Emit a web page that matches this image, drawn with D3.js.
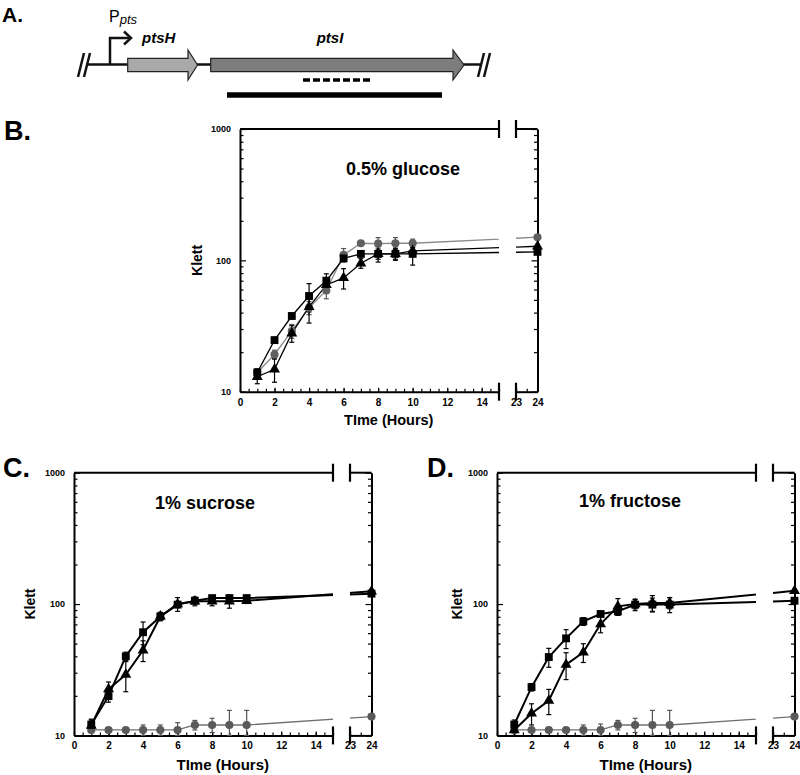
<!DOCTYPE html>
<html><head><meta charset="utf-8">
<script src="https://cdn.jsdelivr.net/npm/d3@7"></script>
<style>
body{margin:0;background:#fff}
svg{display:block}
text{font-family:"Liberation Sans",Arial,sans-serif;font-weight:bold;fill:#000}
</style>
</head><body><svg id="fig" width="800" height="775"></svg>
<script>
// ---------------- data ----------------
const hours = [1,2,3,4,5,6,7,8,9,10,24];
const xMajorTicks = [0,2,4,6,8,10,12,14];
const xBreakTicks = [23,24];
const yMajorTicks = [10,100,1000];

// B. 0.5% glucose
const glcSquare      = [14,24.7,37.7,53.5,70,103.5,112,112,112,112,116];
const glcSquareErr   = [1,1.2,1.5,13,9,5,5,15,12,20,3];
const glcTriangle    = [13,14.8,27.8,44.3,65,73.5,95,112,112,118,128];
const glcTriangleErr = [1.5,3,4,11,6,13,8,10,10,8,3];
const glcCircle      = [14,19.2,29,43.6,59,110,135,134,135,135,150];
const glcCircleErr   = [1,1.5,3.5,5,8,13,5,15,14,10,3];

// C. 1% sucrose
const sucSquare      = [12.1,19.9,40,61,80.5,99,106,111,111,111,120];
const sucSquareErr   = [1.2,2,3,12,5,5,5,4,5,2,3];
const sucTriangle    = [11.9,22.5,29,44.5,80.5,100,105,105,105,106,125];
const sucTriangleErr = [1.2,3,7.5,8,6,12,8,8,12,5,3];
const sucCircle      = [11,11,11,11,11,11,12,12,12,12,13.9];
const sucCircleErr   = [0.5,0.4,0.4,1,1,1.5,1,1.5,3.5,3.5,0.5];

// D. 1% fructose
const fruSquare      = [12.1,23.3,39.5,54.8,73.8,84,88,99,99,99,106];
const fruSquareErr   = [1,1.5,6.5,9,5,3,6,10,12,13,3];
const fruTriangle    = [11,14.7,18.4,34.6,42.9,70.4,96,100,102,102,126];
const fruTriangleErr = [1,2.7,4,8,7,10,14,8,14,10,3];
const fruCircle      = [11,11,11,11,11,11,12,12,12,12,13.9];
const fruCircleErr   = [0.5,0.4,0.4,0.4,1,1.2,1,1.5,3.5,3.5,0.5];

const panelTitles = ["0.5% glucose","1% sucrose","1% fructose"];
const panelLetters = ["B.","C.","D."];

// ---------------- drawing ----------------
const svg = d3.select("#fig");

// ===== Panel A: gene diagram =====
(function geneDiagram(){
  const g = svg.append("g");
  g.append("text").attr("x",2).attr("y",22).style("font-size","21px")
    .style("font-family","'Liberation Sans Narrow','Liberation Sans',Arial,sans-serif").text("A.");
  const ink = "#111";
  g.append("line").attr("x1",86).attr("x2",482).attr("y1",64.5).attr("y2",64.5)
    .attr("stroke",ink).attr("stroke-width",2.5);
  [[78,84],[84,90],[478,484],[484,490]].forEach(([a,b])=>{
    g.append("line").attr("x1",a).attr("y1",77).attr("x2",b).attr("y2",53)
      .attr("stroke",ink).attr("stroke-width",2.5);
  });
  const gene = (x0,x1,tip,fill)=>{
    const p = d3.path();
    p.moveTo(x0,58.3); p.lineTo(x1,58.3); p.lineTo(x1,50); p.lineTo(tip,65);
    p.lineTo(x1,80); p.lineTo(x1,71.7); p.lineTo(x0,71.7); p.closePath();
    g.append("path").attr("d",p.toString()).attr("fill",fill).attr("stroke","#222").attr("stroke-width",1.2);
  };
  gene(127.7,188,197.5,"#a9a9a9");
  gene(210.7,453,464,"#7d7d7d");
  g.append("path").attr("d","M110,64.5 V38 H130").attr("fill","none").attr("stroke",ink).attr("stroke-width",2.5);
  g.append("path").attr("d","M124,31.5 L131,38 L124,44.5").attr("fill","none").attr("stroke",ink).attr("stroke-width",2.5);
  const pt = g.append("text").attr("x",109).attr("y",22).style("font-weight","normal").style("font-size","16px");
  pt.append("tspan").text("P");
  pt.append("tspan").attr("dy",2).style("font-style","italic").style("font-size","13px").text("pts");
  g.append("text").attr("x",142).attr("y",43).style("font-size","15px").style("font-style","italic").text("ptsH");
  g.append("text").attr("x",330).attr("y",43).attr("text-anchor","middle").style("font-size","15px").style("font-style","italic").text("ptsI");
  g.append("line").attr("x1",303).attr("x2",372).attr("y1",80).attr("y2",80)
    .attr("stroke","#000").attr("stroke-width",3.5).attr("stroke-dasharray","7,3");
  g.append("line").attr("x1",227).attr("x2",442).attr("y1",95).attr("y2",95)
    .attr("stroke","#000").attr("stroke-width",5.5);
})();

// ===== growth panels =====
const W1 = 259, GAP = 17, W2 = 21.5, H = 262.7;

function growthPanel(cfg){
  const {L,T,title,titleX,titleY,letter,letterX,letterY,ylabX,xlabY,xlabSize,lw,circleLine,circleFill,series,idx} = cfg;
  const R = L + W1 + GAP + W2, B = T + H;
  const g = svg.append("g");
  const y = d3.scaleLog().domain([10,1000]).range([B,T]);
  const x1 = d3.scaleLinear().domain([0,15]).range([L,L+W1]);
  const x2 = d3.scaleLinear().domain([23,24]).range([L+W1+GAP,R]);
  const xp = d3.scaleLinear().domain([0,15,23,24]).range([L,L+W1,L+W1+GAP,R]);

  g.append("text").attr("x",letterX).attr("y",letterY).style("font-size","27px").text(letter);
  g.append("text").attr("x",titleX).attr("y",titleY).attr("text-anchor","middle").style("font-size","18px").text(title);
  g.append("text").attr("transform",`translate(${ylabX},${(T+B)/2}) rotate(-90)`).attr("text-anchor","middle")
    .style("font-size","14px").text("Klett");
  g.append("text").attr("x",(L+R)/2).attr("y",xlabY).attr("text-anchor","middle").style("font-size",xlabSize+"px").text("TIme (Hours)");

  const minorY = [];
  [10,100].forEach(d=>{for(let k=2;k<=9;k++) minorY.push(d*k);});

  const styleAxis = (sel,fs)=>{
    sel.selectAll("path.domain").attr("stroke","#000").attr("stroke-width",2);
    sel.selectAll(".tick line").attr("stroke","#000").attr("stroke-width",1.2);
    sel.selectAll(".tick text").style("font-size",fs+"px").style("font-family","'Liberation Sans',Arial,sans-serif").style("font-weight","bold");
  };
  const fmt = d3.format("d");

  const ya = g.append("g").attr("transform",`translate(${L},0)`)
    .call(d3.axisLeft(y).tickValues(yMajorTicks).tickFormat(fmt).tickSizeInner(-6).tickSizeOuter(0).tickPadding(9));
  styleAxis(ya,9);
  const yam = g.append("g").attr("transform",`translate(${L},0)`)
    .call(d3.axisLeft(y).tickValues(minorY).tickFormat("").tickSizeInner(-3.5).tickSizeOuter(0));
  yam.select("path.domain").remove(); styleAxis(yam,9);
  const yr = g.append("g").attr("transform",`translate(${R},0)`)
    .call(d3.axisRight(y).tickValues(yMajorTicks).tickFormat("").tickSizeInner(-6).tickSizeOuter(0));
  styleAxis(yr,9);
  const yrm = g.append("g").attr("transform",`translate(${R},0)`)
    .call(d3.axisRight(y).tickValues(minorY).tickFormat("").tickSizeInner(-3.5).tickSizeOuter(0));
  yrm.select("path.domain").remove(); styleAxis(yrm,9);

  const halfA = d3.range(0,15.01,0.5), halfB = [23,23.5,24];
  const xa = g.append("g").attr("transform",`translate(0,${B})`)
    .call(d3.axisBottom(x1).tickValues(xMajorTicks).tickFormat(fmt).tickSizeInner(-4).tickSizeOuter(0).tickPadding(7));
  styleAxis(xa,10);
  const xam = g.append("g").attr("transform",`translate(0,${B})`)
    .call(d3.axisBottom(x1).tickValues(halfA).tickFormat("").tickSizeInner(-3).tickSizeOuter(0));
  xam.select("path.domain").remove(); styleAxis(xam,10);
  const xb = g.append("g").attr("transform",`translate(0,${B})`)
    .call(d3.axisBottom(x2).tickValues(xBreakTicks).tickFormat(fmt).tickSizeInner(-4).tickSizeOuter(0).tickPadding(7));
  styleAxis(xb,10);
  const xbm = g.append("g").attr("transform",`translate(0,${B})`)
    .call(d3.axisBottom(x2).tickValues(halfB).tickFormat("").tickSizeInner(-3).tickSizeOuter(0));
  xbm.select("path.domain").remove(); styleAxis(xbm,10);

  g.append("line").attr("x1",L).attr("x2",L+W1).attr("y1",T).attr("y2",T).attr("stroke","#000").attr("stroke-width",2);
  g.append("line").attr("x1",L+W1+GAP).attr("x2",R).attr("y1",T).attr("y2",T).attr("stroke","#000").attr("stroke-width",2);
  [L+W1, L+W1+GAP].forEach(bx=>{
    [T,B].forEach(by=>{
      g.append("line").attr("x1",bx).attr("x2",bx).attr("y1",by-9).attr("y2",by+9).attr("stroke","#000").attr("stroke-width",2.2);
    });
  });

  const cid = "clip"+idx;
  const cp = svg.append("clipPath").attr("id",cid);
  cp.append("rect").attr("x",L-20).attr("y",T-20).attr("width",W1+20).attr("height",H+40);
  cp.append("rect").attr("x",L+W1+GAP).attr("y",T-20).attr("width",W2+30).attr("height",H+40);

  const line = d3.line().x(d=>xp(d.h)).y(d=>y(d.v));
  const shapes = {square:d3.symbolSquare, triangle:d3.symbolTriangle, circle:d3.symbolCircle};
  const sizes = {square:62, triangle:52, circle:52};

  series.forEach(s=>{
    const pts = hours.map((h,i)=>({h, v:s.vals[i], e:s.errs[i]}));
    const col = s.shape==="circle" ? circleLine : "#000";
    g.append("path").datum(pts).attr("d",line).attr("fill","none").attr("stroke",col)
      .attr("stroke-width", s.shape==="circle" ? 1.3 : lw).attr("clip-path",`url(#${cid})`);
  });
  series.forEach(s=>{
    const pts = hours.map((h,i)=>({h, v:s.vals[i], e:s.errs[i]}));
    const col = s.shape==="circle" ? "#555" : "#000";
    const eb = g.append("g").attr("stroke",col).attr("stroke-width",1.2);
    pts.forEach(p=>{
      const cx = xp(p.h), yt = y(p.v+p.e), yb = y(Math.max(p.v-p.e,10));
      eb.append("line").attr("x1",cx).attr("x2",cx).attr("y1",yt).attr("y2",yb);
      eb.append("line").attr("x1",cx-2.5).attr("x2",cx+2.5).attr("y1",yt).attr("y2",yt);
      eb.append("line").attr("x1",cx-2.5).attr("x2",cx+2.5).attr("y1",yb).attr("y2",yb);
    });
  });
  series.forEach(s=>{
    const pts = hours.map((h,i)=>({h, v:s.vals[i]}));
    const fill = s.shape==="circle" ? circleFill : "#000";
    g.append("g").selectAll("path").data(pts).join("path")
      .attr("transform",d=>`translate(${xp(d.h)},${y(d.v)})`)
      .attr("d",d3.symbol().type(shapes[s.shape]).size(sizes[s.shape]))
      .attr("fill",fill);
  });
}

growthPanel({idx:0, L:240, T:129, title:panelTitles[0], titleX:403, titleY:175, letter:panelLetters[0], letterX:4, letterY:140,
  ylabX:202, xlabY:425, xlabSize:14.5, lw:1.3, circleLine:"#8a8a8a", circleFill:"#606060",
  series:[{shape:"circle",vals:glcCircle,errs:glcCircleErr},{shape:"triangle",vals:glcTriangle,errs:glcTriangleErr},{shape:"square",vals:glcSquare,errs:glcSquareErr}]});
growthPanel({idx:1, L:74, T:472.7, title:panelTitles[1], titleX:205, titleY:509, letter:panelLetters[1], letterX:3, letterY:477,
  ylabX:35, xlabY:770, xlabSize:15, lw:2, circleLine:"#707070", circleFill:"#5a5a5a",
  series:[{shape:"circle",vals:sucCircle,errs:sucCircleErr},{shape:"triangle",vals:sucTriangle,errs:sucTriangleErr},{shape:"square",vals:sucSquare,errs:sucSquareErr}]});
growthPanel({idx:2, L:497, T:472.7, title:panelTitles[2], titleX:630, titleY:507, letter:panelLetters[2], letterX:427, letterY:477,
  ylabX:462, xlabY:770, xlabSize:15, lw:2, circleLine:"#707070", circleFill:"#5a5a5a",
  series:[{shape:"circle",vals:fruCircle,errs:fruCircleErr},{shape:"triangle",vals:fruTriangle,errs:fruTriangleErr},{shape:"square",vals:fruSquare,errs:fruSquareErr}]});
</script>
</body></html>
